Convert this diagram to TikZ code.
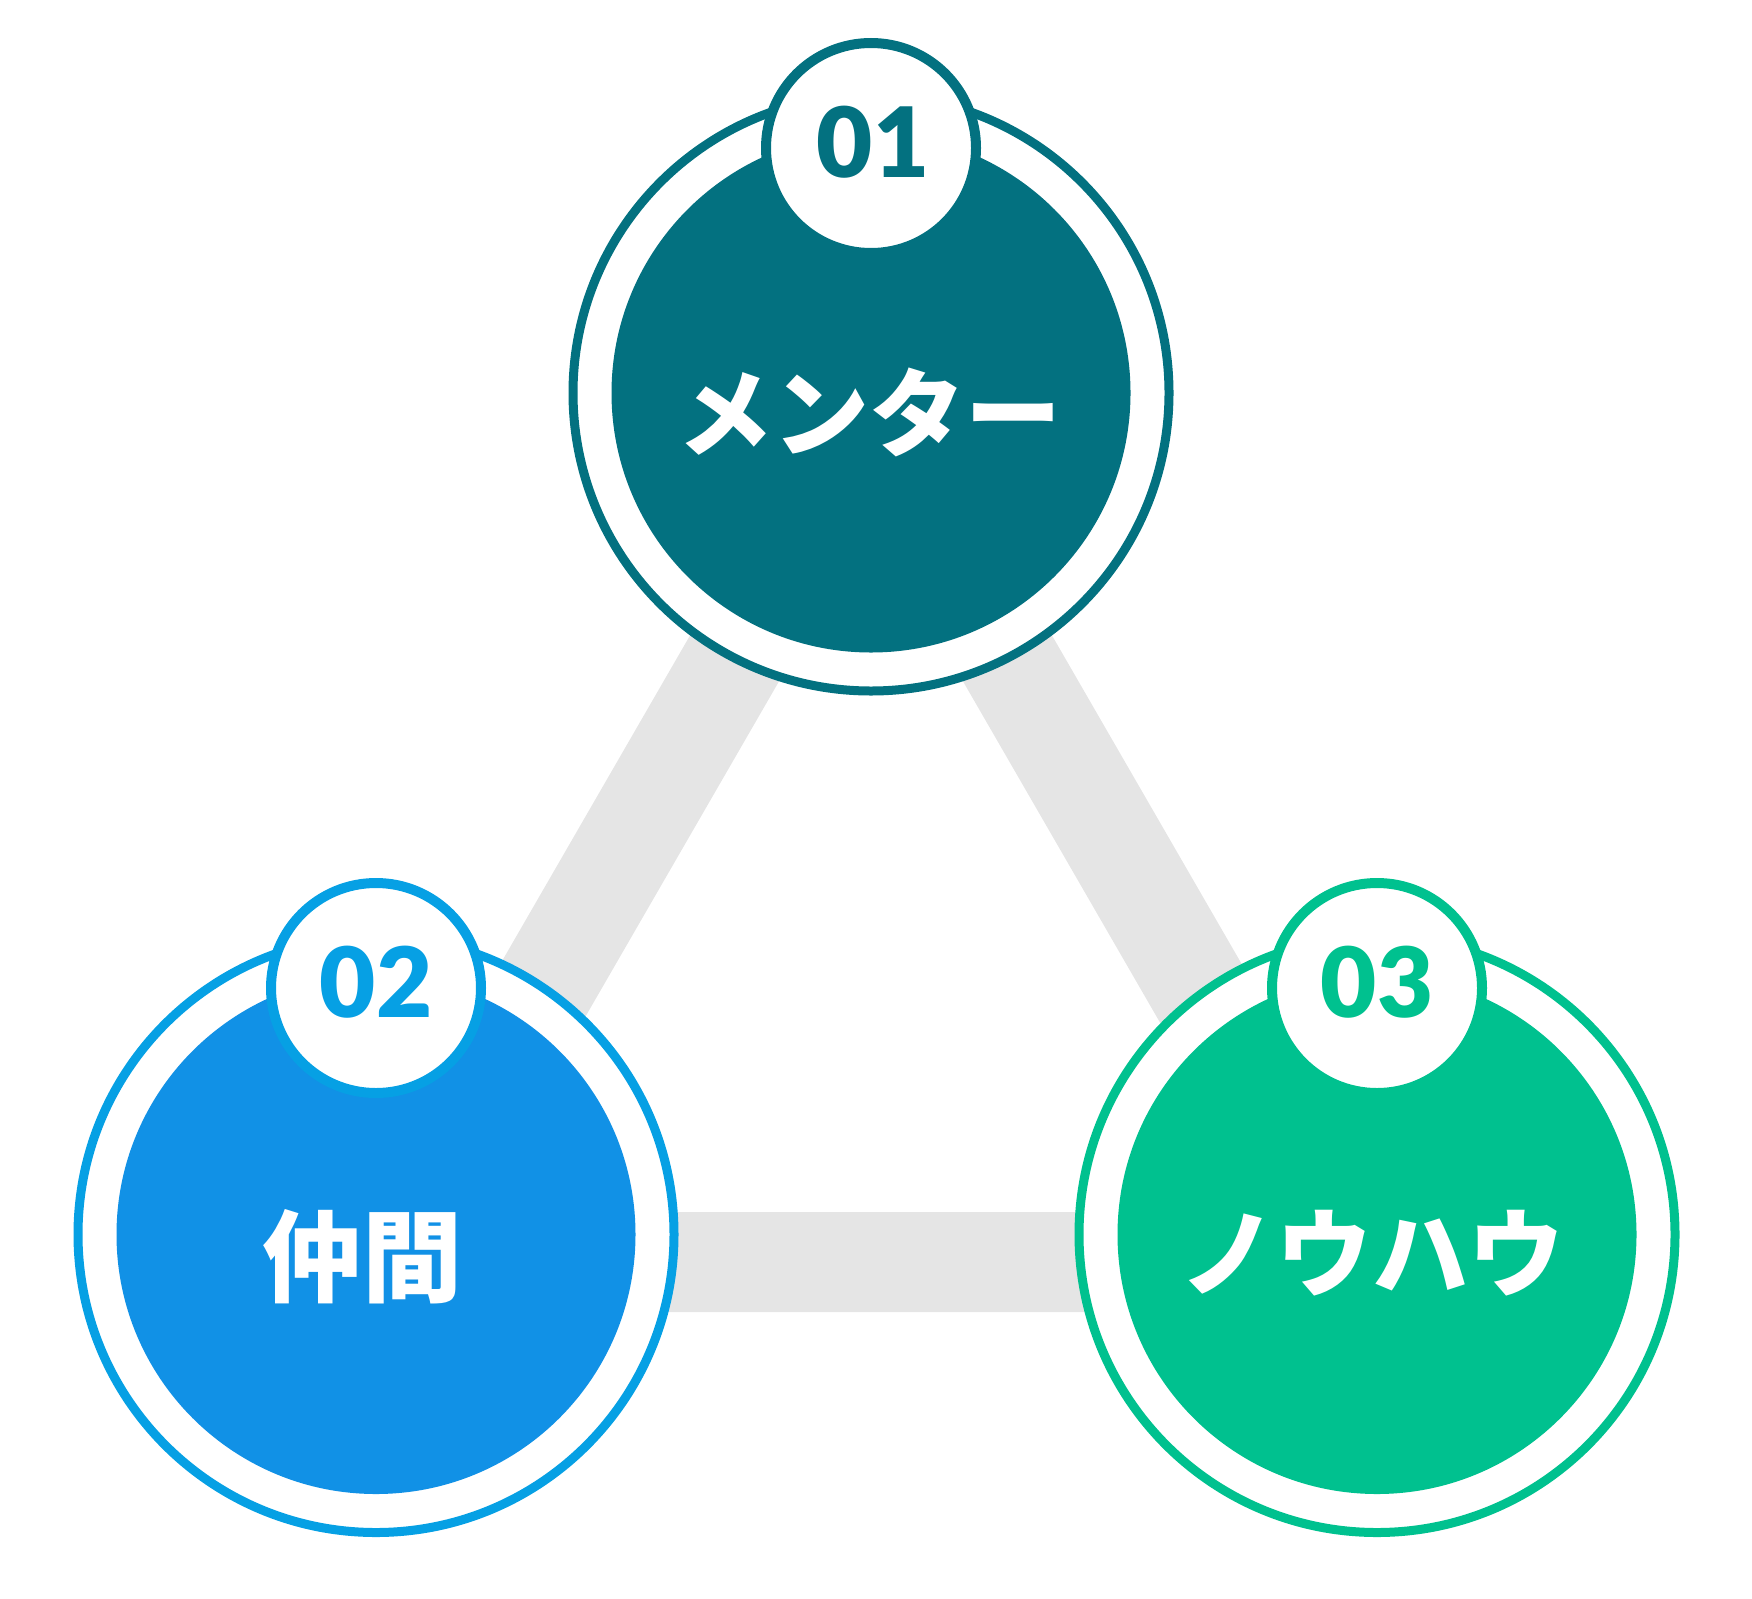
\documentclass[tikz,border=0pt]{standalone}
\usepackage{fontspec}
\newfontfamily\jpfont{Noto Sans CJK JP}
\IfFontExistsTF{Lato Black}{\newfontfamily\numfont{Lato Black}\newcommand\numweight{}}{%
  \IfFontExistsTF{Lato Heavy}{\newfontfamily\numfont{Lato Heavy}\newcommand\numweight{}}{%
    \newfontfamily\numfont{Lato}\newcommand\numweight{\bfseries}}}
\definecolor{cteal}{HTML}{037180}
\definecolor{cblue}{HTML}{1191E6}
\definecolor{cbluering}{HTML}{06A0E4}
\definecolor{cgreen}{HTML}{00C18F}
\definecolor{cgray}{HTML}{E5E5E5}
\tikzset{
  graybar/.style={draw=cgray, line width=100pt},
  ringstyle/.style={circle, draw, fill=white, line width=9pt, minimum size=596pt, inner sep=0pt, outer sep=0pt},
  corestyle/.style={circle, draw=none, minimum size=519pt, inner sep=0pt, outer sep=0pt},
  badgestyle/.style={circle, draw, fill=white, line width=10pt, minimum size=210pt, inner sep=0pt, outer sep=0pt},
  numtext/.style={font=\numfont\numweight\fontsize{97}{97}\selectfont, inner sep=0pt, anchor=base},
  jptext/.style={font=\jpfont\bfseries\fontsize{100}{100}\selectfont, text=white, inner sep=0pt, anchor=base},
  kanatext/.style={font=\jpfont\bfseries\fontsize{96}{96}\selectfont, text=white, inner sep=0pt, anchor=base},
}
\begin{document}
\begin{tikzpicture}[x=1pt,y=-1pt]
\useasboundingbox (0,0) rectangle (1752,1598);
% gray connecting triangle
\coordinate (gA) at (871,422);
\coordinate (gB) at (386,1262);
\coordinate (gC) at (1356,1262);
\draw[graybar] (gA) -- (gB) -- (gC) -- cycle;
% circle 01
\node[ringstyle, draw=cteal] (ringA) at (871,393) {};
\node[corestyle, fill=cteal] (coreA) at (ringA.center) {};
\node[badgestyle, draw=cteal] (badgeA) at (871,148) {};
\node[numtext, text=cteal] (numA) at (873,177) {01};
\node[kanatext] (txtA) at (869,449) {メンター};
% circle 02
\node[ringstyle, draw=cbluering] (ringB) at (376,1234.5) {};
\node[corestyle, fill=cblue] (coreB) at (ringB.center) {};
\node[badgestyle, draw=cbluering] (badgeB) at (376,988) {};
\node[numtext, text=cbluering] (numB) at (376,1017) {02};
\node[jptext] (txtB) at (362,1294.5) {仲間};
% circle 03
\node[ringstyle, draw=cgreen] (ringC) at (1377,1234.5) {};
\node[corestyle, fill=cgreen] (coreC) at (ringC.center) {};
\node[badgestyle, draw=cgreen] (badgeC) at (1377,988) {};
\node[numtext, text=cgreen] (numC) at (1377,1017) {03};
\node[kanatext] (txtC) at (1372,1289) {ノウハウ};
\end{tikzpicture}
\end{document}
